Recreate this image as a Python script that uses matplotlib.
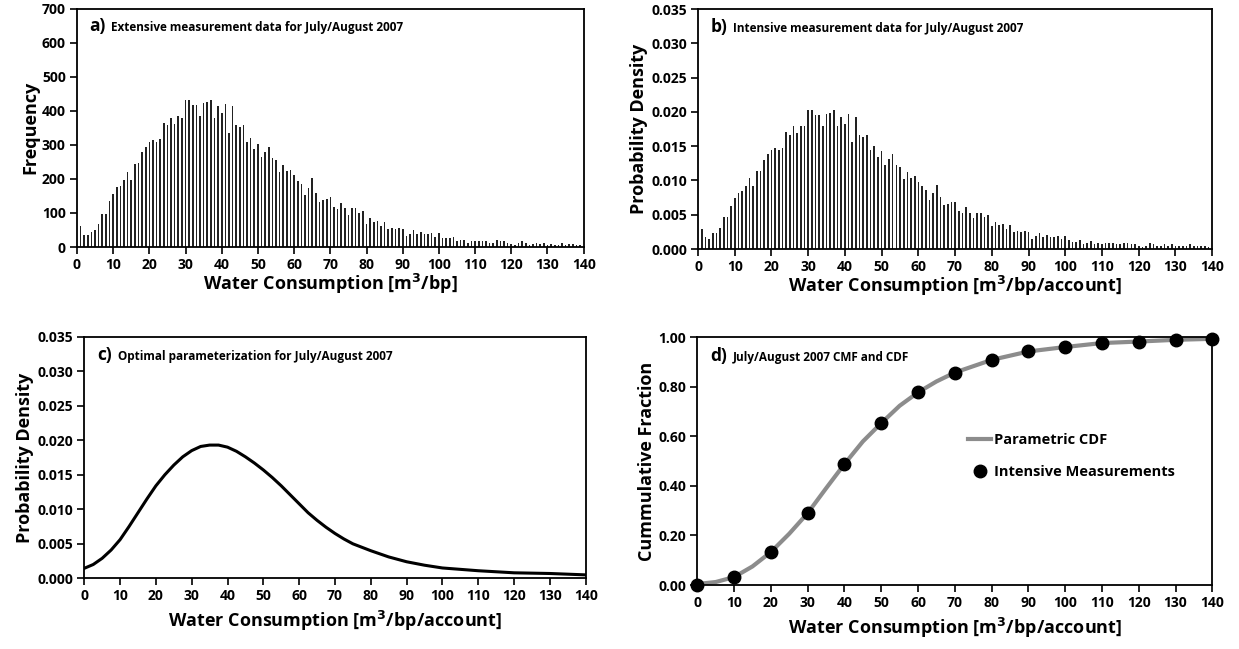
import matplotlib.pyplot as plt
import numpy as np

plt.rcParams["font.family"] = ["Open Sans", "DejaVu Sans"]
plt.rcParams["font.weight"] = "bold"

# a) extensive measurement counts, bins 1..139
ext_x = np.arange(1, 140)
ext_freq = [
    63, 34, 34, 44, 50, 69, 98, 98, 134, 157,
    175, 178, 196, 219, 198, 243, 248, 280, 295, 307,
    313, 308, 316, 365, 357, 380, 361, 385, 380, 433,
    433, 418, 418, 385, 422, 425, 433, 380, 414, 393,
    420, 336, 414, 357, 353, 357, 308, 320, 288, 304,
    263, 280, 295, 260, 255, 220, 241, 224, 227, 211,
    195, 186, 154, 174, 203, 158, 133, 139, 142, 146,
    118, 113, 129, 114, 94, 114, 114, 101, 105, 69,
    85, 74, 77, 62, 74, 53, 57, 54, 57, 53,
    33, 37, 49, 37, 45, 37, 37, 41, 29, 42,
    25, 25, 25, 29, 17, 21, 21, 13, 17, 17,
    17, 17, 17, 13, 13, 21, 17, 17, 12, 8,
    5, 13, 17, 12, 5, 8, 13, 8, 12, 5,
    8, 5, 5, 12, 5, 8, 8, 5, 5,
]

# b) intensive measurement densities, bins 1..139
int_x = np.arange(1, 140)
int_dens = [
    0.0029, 0.0017, 0.0015, 0.0023, 0.0023, 0.0031, 0.0046, 0.0046, 0.0063, 0.0074,
    0.0082, 0.0084, 0.0092, 0.0104, 0.0092, 0.0114, 0.0114, 0.0130, 0.0138, 0.0144,
    0.0147, 0.0144, 0.0148, 0.0171, 0.0166, 0.0179, 0.0169, 0.0179, 0.0179, 0.0203,
    0.0203, 0.0195, 0.0195, 0.0179, 0.0197, 0.0199, 0.0203, 0.0179, 0.0193, 0.0183,
    0.0197, 0.0156, 0.0193, 0.0167, 0.0164, 0.0167, 0.0145, 0.0150, 0.0134, 0.0143,
    0.0122, 0.0132, 0.0138, 0.0122, 0.0120, 0.0102, 0.0112, 0.0104, 0.0106, 0.0098,
    0.0092, 0.0086, 0.0072, 0.0082, 0.0094, 0.0076, 0.0064, 0.0066, 0.0068, 0.0068,
    0.0055, 0.0053, 0.0061, 0.0053, 0.0045, 0.0053, 0.0053, 0.0047, 0.0049, 0.0033,
    0.0039, 0.0035, 0.0037, 0.0029, 0.0035, 0.0025, 0.0027, 0.0025, 0.0027, 0.0025,
    0.0015, 0.0019, 0.0023, 0.0017, 0.0021, 0.0017, 0.0017, 0.0019, 0.0015, 0.0019,
    0.0013, 0.0010, 0.0010, 0.0013, 0.0007, 0.0009, 0.0011, 0.0007, 0.0009, 0.0007,
    0.0009, 0.0009, 0.0009, 0.0007, 0.0007, 0.0009, 0.0009, 0.0007, 0.0007, 0.0004,
    0.0003, 0.0005, 0.0009, 0.0007, 0.0004, 0.0005, 0.0007, 0.0004, 0.0007, 0.0004,
    0.0005, 0.0004, 0.0004, 0.0007, 0.0004, 0.0005, 0.0005, 0.0004, 0.0003,
]

# c) fitted pdf
pdf_x = [0, 2.5, 5, 7.5, 10, 12.5, 15, 17.5, 20, 22.5, 25, 27.5, 30, 32.5, 35, 37.5,
         40, 42.5, 45, 47.5, 50, 52.5, 55, 57.5, 60, 62.5, 65, 67.5, 70, 72.5, 75,
         80, 85, 90, 95, 100, 110, 120, 130, 140]
pdf_y = [0.00145, 0.0020, 0.0029, 0.0041, 0.0056, 0.0075, 0.0095, 0.0115, 0.0134,
         0.0150, 0.0164, 0.0176, 0.0185, 0.0191, 0.0193, 0.0193, 0.0190, 0.0184,
         0.0176, 0.0167, 0.0157, 0.0146, 0.0134, 0.0121, 0.0108, 0.0095, 0.0084,
         0.0074, 0.0065, 0.0057, 0.0050, 0.0040, 0.0031, 0.0024, 0.0019, 0.0015,
         0.0011, 0.0008, 0.0007, 0.0005]

# d) parametric cdf and measured cumulative fraction
cdf_x = [0, 5, 10, 15, 20, 25, 30, 35, 40, 45, 50, 55, 60, 65, 70, 80, 90, 100,
         110, 120, 130, 140]
cdf_y = [0.004, 0.012, 0.032, 0.075, 0.133, 0.207, 0.29, 0.39, 0.488, 0.579, 0.653,
         0.723, 0.777, 0.821, 0.857, 0.908, 0.942, 0.96, 0.976, 0.982, 0.989, 0.993]
cmf_x = [0, 10, 20, 30, 40, 50, 60, 70, 80, 90, 100, 110, 120, 130, 140]
cmf_y = [0.0, 0.032, 0.133, 0.292, 0.488, 0.653, 0.777, 0.855, 0.908, 0.942, 0.96,
         0.976, 0.982, 0.987, 0.993]

xticks = np.arange(0, 141, 10)


def style(ax, ylabel, xlabel, xpad):
    ax.set_xlim(0, 140)
    ax.set_xticks(xticks)
    for s in ax.spines.values():
        s.set_linewidth(1.3)
    ax.tick_params(direction="out", length=5, width=1.2, labelsize=10, pad=3)
    ax.set_ylabel(ylabel, fontsize=13, fontweight="bold", labelpad=2)
    ax.set_xlabel(xlabel, fontsize=13, fontweight="bold", labelpad=xpad)


def panel_title(ax, letter, text):
    ax.text(0.025, 0.905, letter, transform=ax.transAxes, fontsize=12.5, fontweight="bold")
    ax.text(0.068, 0.905, text, transform=ax.transAxes, fontsize=8.5, fontweight="bold")


fig = plt.figure(figsize=(12.39, 6.49), dpi=100)
ax_a = fig.add_axes([0.0621, 0.6194, 0.409, 0.3672])
ax_b = fig.add_axes([0.5634, 0.6163, 0.4149, 0.3698])
ax_c = fig.add_axes([0.068, 0.1089, 0.4047, 0.3723])
ax_d = fig.add_axes([0.5628, 0.0986, 0.4157, 0.382])

ax_a.bar(ext_x, ext_freq, width=0.45, color="#222222", linewidth=0)
ax_a.set_ylim(0, 700)
ax_a.set_yticks(np.arange(0, 701, 100))
style(ax_a, "Frequency", "Water Consumption [m$^3$/bp]", 0)
panel_title(ax_a, "a)", "Extensive measurement data for July/August 2007")

ax_b.bar(int_x, int_dens, width=0.45, color="#222222", linewidth=0)
ax_b.set_ylim(0, 0.035)
ax_b.set_yticks(np.arange(0, 0.0351, 0.005))
ax_b.set_yticklabels(["%.3f" % v for v in np.arange(0, 0.0351, 0.005)])
style(ax_b, "Probability Density", "Water Consumption [m$^3$/bp/account]", 0)
panel_title(ax_b, "b)", "Intensive measurement data for July/August 2007")

ax_c.plot(pdf_x, pdf_y, color="black", lw=2.2)
ax_c.set_ylim(0, 0.035)
ax_c.set_yticks(np.arange(0, 0.0351, 0.005))
ax_c.set_yticklabels(["%.3f" % v for v in np.arange(0, 0.0351, 0.005)])
style(ax_c, "Probability Density", "Water Consumption [m$^3$/bp/account]", 4)
panel_title(ax_c, "c)", "Optimal parameterization for July/August 2007")

ax_d.plot(cdf_x, cdf_y, color="#8c8c8c", lw=3, label="Parametric CDF", zorder=2)
ax_d.plot(cmf_x, cmf_y, "o", color="black", ms=9, label="Intensive Measurements",
          clip_on=False, zorder=3)
ax_d.set_ylim(0, 1.0)
ax_d.set_yticks(np.arange(0, 1.01, 0.2))
ax_d.set_yticklabels(["%.2f" % v for v in np.arange(0, 1.01, 0.2)])
style(ax_d, "Cummulative Fraction", "Water Consumption [m$^3$/bp/account]", 4)
panel_title(ax_d, "d)", "July/August 2007 CMF and CDF")
ax_d.legend(loc="center left", bbox_to_anchor=(0.5, 0.52), frameon=False,
            fontsize=10.5, handlelength=1.6, handletextpad=0.2, labelspacing=1.2)

fig.savefig("out.png", dpi=100)
